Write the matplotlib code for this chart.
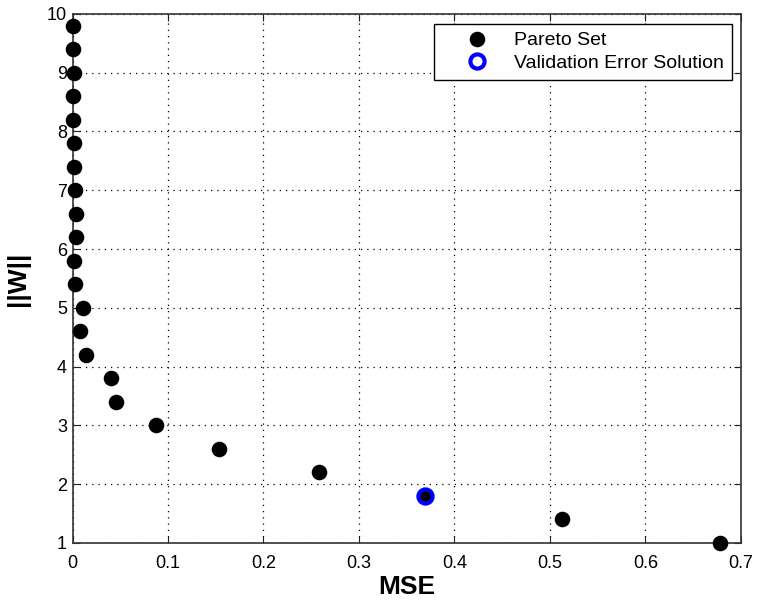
import matplotlib
matplotlib.use("Agg")
import matplotlib.pyplot as plt

plt.rcParams['font.family'] = ['Liberation Sans', 'DejaVu Sans']

pareto_mse = [0.001, 0.001, 0.002, 0.001, 0.001, 0.002, 0.002, 0.003, 0.004, 0.004,
              0.002, 0.003, 0.011, 0.008, 0.014, 0.040, 0.046, 0.087, 0.153, 0.258,
              0.369, 0.513, 0.678]
pareto_w = [9.8, 9.4, 9.0, 8.6, 8.2, 7.8, 7.4, 7.0, 6.6, 6.2,
            5.8, 5.4, 5.0, 4.6, 4.2, 3.8, 3.4, 3.0, 2.6, 2.2,
            1.8, 1.4, 1.0]
val_mse = [0.369]
val_w = [1.8]

x_ticks = [0, 0.1, 0.2, 0.3, 0.4, 0.5, 0.6, 0.7]
x_labels = ['0', '0.1', '0.2', '0.3', '0.4', '0.5', '0.6', '0.7']
y_ticks = [1, 2, 3, 4, 5, 6, 7, 8, 9, 10]

fig = plt.figure(figsize=(7.62, 6.04), dpi=100)
ax = fig.add_axes([0.0952, 0.101, 0.877, 0.876])

ax.plot(pareto_mse, pareto_w, 'o', color='black', markersize=10.2, linestyle='none',
        label='Pareto Set', clip_on=False, zorder=3)
ax.plot(val_mse, val_w, 'o', markerfacecolor='none', markeredgecolor='#0000ff',
        markeredgewidth=3, markersize=10.2, linestyle='none',
        label='Validation Error Solution', clip_on=False, zorder=4)

ax.set_xlim(0, 0.7)
ax.set_ylim(1, 10)
ax.set_xticks(x_ticks)
ax.set_xticklabels(x_labels)
ax.set_yticks(y_ticks)
ax.tick_params(direction='in', length=5, width=0.8, labelsize=13, colors='#222222',
               labelcolor='black', top=True, right=True)
ax.tick_params(axis='x', pad=9)
ax.tick_params(axis='y', pad=4)
for s in ax.spines.values():
    s.set_linewidth(1.2)
    s.set_color('#333333')
ax.grid(True, linestyle=(0, (1, 4)), color='black', linewidth=0.9)

ax.set_xlabel('MSE', fontsize=19, fontweight='bold', labelpad=2)
ax.set_ylabel('||W||', fontsize=19, fontweight='bold', labelpad=12)

leg = ax.legend(loc='upper right', bbox_to_anchor=(0.987, 0.981), borderaxespad=0,
                fontsize=14, frameon=True, fancybox=False,
                edgecolor='black', framealpha=1,
                handletextpad=0.15, handlelength=3.6, labelspacing=0.25,
                borderpad=0.4)
leg.get_frame().set_linewidth(1.0)

fig.savefig('out.png', dpi=100)
